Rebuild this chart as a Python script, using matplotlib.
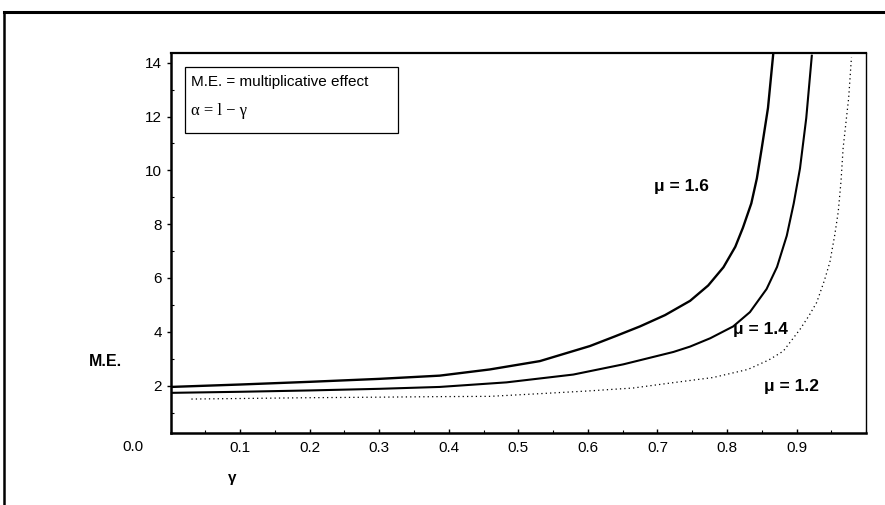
import matplotlib
matplotlib.use("Agg")
import matplotlib.pyplot as plt
from matplotlib.lines import Line2D
from matplotlib.patches import Rectangle
from matplotlib.ticker import MultipleLocator

# values (gamma, multiplicative effect)
gamma_16 = [0.0, 0.1, 0.2, 0.3, 0.387, 0.459, 0.531, 0.603, 0.639, 0.675, 0.711,
            0.747, 0.773, 0.795, 0.812, 0.823, 0.835, 0.843, 0.85, 0.859, 0.867]
me_16 = [1.95, 2.04, 2.14, 2.25, 2.37, 2.6, 2.91, 3.47, 3.83, 4.2, 4.62,
         5.15, 5.72, 6.4, 7.16, 7.87, 8.77, 9.7, 10.82, 12.32, 14.45]

gamma_14 = [0.0, 0.1, 0.2, 0.3, 0.387, 0.483, 0.579, 0.651, 0.723, 0.747, 0.776,
            0.809, 0.833, 0.857, 0.872, 0.886, 0.896, 0.905, 0.914, 0.922]
me_14 = [1.73, 1.77, 1.82, 1.88, 1.95, 2.12, 2.41, 2.79, 3.25, 3.45, 3.76,
         4.2, 4.73, 5.59, 6.41, 7.57, 8.77, 10.07, 11.94, 14.26]

gamma_12 = [0.03, 0.1, 0.2, 0.3, 0.387, 0.459, 0.531, 0.6, 0.665, 0.72, 0.78,
            0.83, 0.86, 0.881, 0.905, 0.918, 0.929, 0.94, 0.948, 0.955, 0.96,
            0.964, 0.967, 0.975, 0.979]
me_12 = [1.5, 1.52, 1.55, 1.57, 1.59, 1.6, 1.7, 1.8, 1.91, 2.1, 2.3,
         2.6, 2.95, 3.28, 4.09, 4.6, 5.09, 5.9, 6.59, 7.6, 8.46,
         9.6, 10.82, 12.69, 14.2]

y_ticks = [2, 4, 6, 8, 10, 12, 14]
x_ticks = [0.1, 0.2, 0.3, 0.4, 0.5, 0.6, 0.7, 0.8, 0.9]

curve_labels = ["\u03bc = 1.6", "\u03bc = 1.4", "\u03bc = 1.2"]
label_pos = [(0.735, 9.4), (0.848, 4.1), (0.893, 1.97)]

plt.rcParams['font.family'] = ['Liberation Sans', 'DejaVu Sans']

fig = plt.figure(figsize=(8.85, 5.05), dpi=100)
ax = fig.add_axes([0.1927, 0.1432, 0.7859, 0.7513])

ax.plot(gamma_16, me_16, color='black', lw=1.7)
ax.plot(gamma_14, me_14, color='black', lw=1.5)
ax.plot(gamma_12, me_12, color='black', lw=0.9, linestyle=(0, (1, 2.5)))

for txt, (gx, gy) in zip(curve_labels, label_pos):
    ax.text(gx, gy, txt, ha='center', va='center', fontsize=12.5, fontweight='bold')

ax.set_xlim(0, 1.0)
ax.set_ylim(0.25, 14.35)
ax.set_xticks(x_ticks)
ax.set_xticklabels([f"{t:.1f}" for t in x_ticks])
ax.set_yticks(y_ticks)
ax.xaxis.set_minor_locator(MultipleLocator(0.05))
ax.yaxis.set_minor_locator(MultipleLocator(1))
ax.tick_params(axis='x', direction='in', length=3, width=1, labelsize=11, pad=6)
ax.tick_params(axis='y', direction='out', length=3, width=1, labelsize=11, pad=3)
ax.tick_params(which='minor', direction='in', length=2, width=0.8)

ax.spines['left'].set_linewidth(1.8)
ax.spines['bottom'].set_linewidth(1.8)
ax.spines['top'].set_linewidth(1.6)
ax.spines['right'].set_linewidth(1.0)

# note box
ax.add_patch(Rectangle((0.0208, 0.790), 0.306, 0.174, transform=ax.transAxes,
                       fill=False, lw=0.9, color='black'))
ax.text(0.0295, 0.924, "M.E. = multiplicative effect", transform=ax.transAxes,
        fontsize=11, ha='left', va='center')
ax.text(0.0295, 0.848, "\u03b1 = l \u2212 \u03b3", transform=ax.transAxes,
        fontsize=12, ha='left', va='center', family=['Liberation Serif', 'DejaVu Serif'])

# axis labels placed like the scan
fig.text(105.7 / 885, 1 - 361.7 / 505, "M.E.", fontsize=11.5, fontweight='bold',
         ha='center', va='center')
fig.text(232 / 885, 1 - 478 / 505, "\u03b3", fontsize=11, fontweight='bold',
         ha='center', va='center')
fig.text(133 / 885, 1 - 447 / 505, "0.0", fontsize=11, ha='center', va='center')

# page frame
fig.add_artist(Line2D([4 / 885, 1], [1 - 12 / 505] * 2, color='black', lw=2.2))
fig.add_artist(Line2D([4 / 885] * 2, [0, 1 - 12 / 505], color='black', lw=1.8))

fig.savefig("out.png", dpi=100)
